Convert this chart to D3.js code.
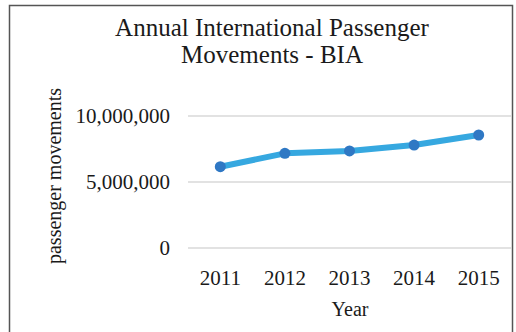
<!DOCTYPE html>
<html><head><meta charset="utf-8">
<script src="https://cdn.jsdelivr.net/npm/d3@7"></script>
<style>body{margin:0;background:#fff}svg{display:block}text{font-family:"Liberation Serif","Times New Roman",serif;fill:#1a1a1a}</style>
</head><body><svg id="c" width="516" height="332"></svg>
<script>
const years = ["2011","2012","2013","2014","2015"];
const passengers = [6160000, 7170000, 7350000, 7800000, 8560000];
const yTicks = [0, 5000000, 10000000];
const titleLines = ["Annual International Passenger", "Movements - BIA"];

const svg = d3.select("#c");
svg.append("rect").attr("x",9.5).attr("y",5.5).attr("width",503).attr("height",340)
  .attr("fill","#fff").attr("stroke","#555").attr("stroke-width",1.5);

const x = d3.scaleBand().domain(years).range([188, 511]);
const y = d3.scaleLinear().domain([0, 10000000]).range([248, 116]);

const grid = svg.append("g");
grid.selectAll("line").data(yTicks).join("line")
  .attr("x1",188).attr("x2",511).attr("y1",d=>y(d)).attr("y2",d=>y(d))
  .attr("stroke","#e2e2e2").attr("stroke-width",2);

const yAxis = svg.append("g").attr("transform","translate(188,0)")
  .call(d3.axisLeft(y).tickValues(yTicks).tickSize(0).tickPadding(18).tickFormat(d3.format(",")));
yAxis.select(".domain").remove();
yAxis.selectAll("text").attr("font-size",21).attr("font-family","Liberation Serif");

const xAxis = svg.append("g").attr("transform","translate(0,248)")
  .call(d3.axisBottom(x).tickSize(0).tickPadding(22));
xAxis.select(".domain").remove();
xAxis.selectAll("text").attr("font-size",21).attr("font-family","Liberation Serif");

svg.append("path").datum(passengers)
  .attr("d", d3.line().x((d,i)=>x(years[i])+x.bandwidth()/2).y(d=>y(d)))
  .attr("fill","none").attr("stroke","#36a8e0").attr("stroke-width",6).attr("stroke-linejoin","round");

svg.selectAll("circle.pt").data(passengers).join("circle").attr("class","pt")
  .attr("cx",(d,i)=>x(years[i])+x.bandwidth()/2).attr("cy",d=>y(d)).attr("r",5.5)
  .attr("fill","#2f78c4");

svg.selectAll("text.title").data(titleLines).join("text").attr("class","title")
  .attr("x",272).attr("y",(d,i)=>36+i*27).attr("text-anchor","middle").attr("font-size",25).text(d=>d);

svg.append("text").attr("x",350).attr("y",316).attr("text-anchor","middle").attr("font-size",20).text("Year");
svg.append("text").attr("transform","translate(61,176) rotate(-90)").attr("text-anchor","middle")
  .attr("font-size",20).text("passenger movements");
</script></body></html>
